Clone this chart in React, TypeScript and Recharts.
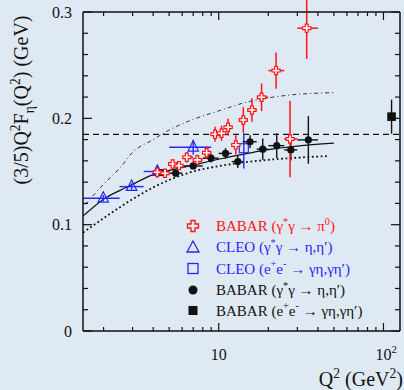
import React from 'react'
import {
  ComposedChart, XAxis, YAxis, Scatter, Line, ErrorBar, ReferenceLine
} from 'recharts'

const BG = '#dfe9f3'
const INK = '#111'
const RED = '#ff1414'
const BLUE = '#2626ff'
const FONT = '"Liberation Serif", "Times New Roman", serif'

// BABAR (γ*γ → π0)
const piQ = [4.24, 4.72, 5.25, 5.74, 6.4, 7.41, 8.45, 9.5, 10.4, 11.4, 12.7, 14.1, 15.9, 18.2, 22.3, 27.1, 34.2]
const piLo = [4, 4.5, 5, 5.5, 6, 7, 8, 9, 10, 11, 12, 13.5, 15, 17, 20, 25, 30]
const piHi = [4.5, 5, 5.5, 6, 7, 8, 9, 10, 11, 12, 13.5, 15, 17, 20, 25, 30, 40]
const piF = [0.1493, 0.1484, 0.1571, 0.1555, 0.1634, 0.1609, 0.1677, 0.185, 0.186, 0.1916, 0.175, 0.1985, 0.2079, 0.2198, 0.2449, 0.1806, 0.2848]
const piErr = [0.004, 0.004, 0.004, 0.004, 0.005, 0.005, 0.006, 0.007, 0.007, 0.008, 0.009, 0.012, 0.011, 0.013, 0.017, 0.036, 0.029]

// CLEO (γ*γ → η,η')
const cleoQ = [1.99, 2.96, 4.24, 7.0]
const cleoLo = [1.5, 2.5, 3.5, 5]
const cleoHi = [2.5, 3.5, 5, 9]
const cleoF = [0.1248, 0.1358, 0.150, 0.1728]
const cleoErr = [0.003, 0.003, 0.006, 0.007]

// CLEO (e+e- → γη,γη')
const cleoEeQ = [14.2]
const cleoEeF = [0.1719]
const cleoEeErr = [[0.019, 0.014]]

// BABAR (γ*γ → η,η')
const etaQ = [4.5, 5.48, 7.0, 8.98, 11.0, 13.05, 15.5, 18.5, 22.5, 27.4, 35.0]
const etaLo = [4, 5, 6, 8, 10, 12, 14, 17, 20, 25, 30]
const etaHi = [5, 6, 8, 10, 12, 14, 17, 20, 25, 30, 40]
const etaF = [0.149, 0.1484, 0.1552, 0.1625, 0.167, 0.1593, 0.178, 0.171, 0.1743, 0.1703, 0.1797]
const etaErr = [0.003, 0.003, 0.003, 0.004, 0.005, 0.006, 0.006, 0.010, 0.0117, 0.010, 0.0224]

// BABAR (e+e- → γη,γη')
const babarEeQ = [112]
const babarEeF = [0.2016]
const babarEeErr = [0.016]

// theory curves
const solidQ = [1.5, 2, 2.5, 3, 4, 5, 7, 10, 15, 20, 30, 50]
const solidF = [0.108, 0.124, 0.132, 0.138, 0.147, 0.151, 0.156, 0.1615, 0.167, 0.1705, 0.1738, 0.1766]
const dotQ = [1.5, 2, 3, 4, 5, 7, 10, 15, 20, 30, 47]
const dotF = [0.0925, 0.106, 0.124, 0.135, 0.142, 0.150, 0.155, 0.159, 0.161, 0.163, 0.1646]
const dashDotQ = [1.55, 2, 2.5, 3, 4, 5, 7, 10, 15, 24, 50]
const dashDotF = [0.119, 0.138, 0.153, 0.168, 0.180, 0.189, 0.199, 0.207, 0.2155, 0.221, 0.2242]

const asymptote = 0.185

const xTicks = [2, 3, 4, 5, 6, 7, 8, 9, 10, 20, 30, 40, 50, 60, 70, 80, 90, 100]
const yTicks = [0, 0.02, 0.04, 0.06, 0.08, 0.1, 0.12, 0.14, 0.16, 0.18, 0.2, 0.22, 0.24, 0.26, 0.28, 0.3]

const piData = piQ.map((q, i) => ({ q, v: piF[i], ex: [q - piLo[i], piHi[i] - q], ey: piErr[i] }))
const cleoData = cleoQ.map((q, i) => ({ q, v: cleoF[i], ex: [q - cleoLo[i], cleoHi[i] - q], ey: cleoErr[i] }))
const cleoEeData = cleoEeQ.map((q, i) => ({ q, v: cleoEeF[i], ey: cleoEeErr[i] }))
const etaData = etaQ.map((q, i) => ({ q, v: etaF[i], ex: [q - etaLo[i], etaHi[i] - q], ey: etaErr[i] }))
const babarEeData = babarEeQ.map((q, i) => ({ q, v: babarEeF[i], ey: babarEeErr[i] }))
const solid = solidQ.map((q, i) => ({ q, v: solidF[i] }))
const dotted = dotQ.map((q, i) => ({ q, v: dotF[i] }))
const dashDot = dashDotQ.map((q, i) => ({ q, v: dashDotF[i] }))

const isMajorX = (v: number) => v === 10 || v === 100
const isMajorY = (v: number) => Math.abs(v * 10 - Math.round(v * 10)) < 1e-6

type Part = [string, 'n' | 'sup' | 'sub']

function Rich({ x, y, parts, size, fill, anchor, transform }: {
  x: number; y: number; parts: Part[]; size: number; fill: string; anchor?: string; transform?: string
}) {
  let shift = 0
  const nodes = parts.map(([t, k], i) => {
    const target = k === 'sup' ? -size * 0.42 : k === 'sub' ? size * 0.28 : 0
    const dy = target - shift
    shift = target
    return <tspan key={i} dy={dy} fontSize={k === 'n' ? size : size * 0.68}>{t}</tspan>
  })
  return (
    <text x={x} y={y} fill={fill} fontSize={size} fontFamily={FONT} textAnchor={anchor} transform={transform}>
      {nodes}
    </text>
  )
}

function crossPoints(cx: number, cy: number, h: number, a: number) {
  const p = [[-a, -h], [a, -h], [a, -a], [h, -a], [h, a], [a, a], [a, h], [-a, h], [-a, a], [-h, a], [-h, -a], [-a, -a]]
  return p.map(([dx, dy]) => `${cx + dx},${cy + dy}`).join(' ')
}

const Cross = (p: any) => (
  <polygon points={crossPoints(p.cx, p.cy, 4.1, 1.4)} fill="#fff" stroke={RED} strokeWidth={1.2} />
)
const Tri = (p: any) => (
  <polygon points={`${p.cx},${p.cy - 6.5} ${p.cx + 5.2},${p.cy + 3.8} ${p.cx - 5.2},${p.cy + 3.8}`} fill="none" stroke={BLUE} strokeWidth={1.2} />
)
const OpenSq = (p: any) => (
  <rect x={p.cx - 4.5} y={p.cy - 4.5} width={9} height={9} fill="none" stroke={BLUE} strokeWidth={1.2} />
)
const Dot = (p: any) => <circle cx={p.cx} cy={p.cy} r={3.6} fill={INK} />
const FillSq = (p: any) => <rect x={p.cx - 4.3} y={p.cy - 4.3} width={8.6} height={8.6} fill={INK} />

function BottomTick({ x, y, payload }: any) {
  const v = payload.value
  return (
    <g>
      <line x1={x} y1={y} x2={x} y2={y - (isMajorX(v) ? 8 : 4)} stroke={INK} strokeWidth={1.2} />
      {v === 10 && <text x={x} y={y + 29} textAnchor="middle" fontSize={16} fontFamily={FONT} fill={INK}>10</text>}
      {v === 100 && <Rich x={x - 8} y={y + 29} size={16} fill={INK} parts={[['10', 'n'], ['2', 'sup']]} />}
    </g>
  )
}

function TopTick({ x, y, payload }: any) {
  const v = payload.value
  return <line x1={x} y1={y} x2={x} y2={y + (isMajorX(v) ? 8 : 4)} stroke={INK} strokeWidth={1.2} />
}

function LeftTick({ x, y, payload }: any) {
  const v = payload.value
  const major = isMajorY(v)
  return (
    <g>
      <line x1={x} y1={y} x2={x + (major ? 9 : 5)} y2={y} stroke={INK} strokeWidth={1.2} />
      {major && (
        <text x={x - 11} y={y + 5.5} textAnchor="end" fontSize={16} fontFamily={FONT} fill={INK}>
          {v === 0 ? '0' : v.toFixed(1)}
        </text>
      )}
    </g>
  )
}

function RightTick({ x, y, payload }: any) {
  const v = payload.value
  return <line x1={x} y1={y} x2={x - (isMajorY(v) ? 9 : 5)} y2={y} stroke={INK} strokeWidth={1.2} />
}

const legendRows: { base: number; color: string; icon: string; parts: Part[] }[] = [
  { base: 231, color: RED, icon: 'cross', parts: [['BABAR (γ', 'n'], ['*', 'sup'], ['γ → π', 'n'], ['0', 'sup'], [')', 'n']] },
  { base: 252, color: BLUE, icon: 'tri', parts: [['CLEO (γ', 'n'], ['*', 'sup'], ['γ → η,η′)', 'n']] },
  { base: 273.5, color: BLUE, icon: 'sq', parts: [['CLEO (e', 'n'], ['+', 'sup'], ['e', 'n'], ['-', 'sup'], [' → γη,γη′)', 'n']] },
  { base: 295, color: INK, icon: 'dot', parts: [['BABAR (γ', 'n'], ['*', 'sup'], ['γ → η,η′)', 'n']] },
  { base: 315.5, color: INK, icon: 'fsq', parts: [['BABAR (e', 'n'], ['+', 'sup'], ['e', 'n'], ['-', 'sup'], [' → γη,γη′)', 'n']] },
]

function LegendIcon({ kind, cx, cy }: { kind: string; cx: number; cy: number }) {
  if (kind === 'cross') return <polygon points={crossPoints(cx, cy, 5.5, 2)} fill="none" stroke={RED} strokeWidth={1.3} />
  if (kind === 'tri') return <polygon points={`${cx},${cy - 6} ${cx + 6},${cy + 5} ${cx - 6},${cy + 5}`} fill="none" stroke={BLUE} strokeWidth={1.3} />
  if (kind === 'sq') return <rect x={cx - 5} y={cy - 5} width={10} height={10} fill="none" stroke={BLUE} strokeWidth={1.3} />
  if (kind === 'dot') return <circle cx={cx} cy={cy} r={4.5} fill={INK} />
  return <rect x={cx - 4.5} y={cy - 4.5} width={9} height={9} fill={INK} />
}

export default function App() {
  return (
    <div style={{ position: 'absolute', left: 0, top: 0, width: 404, height: 390, background: BG }}>
      <ComposedChart width={404} height={390} margin={{ top: 0, right: 0, bottom: 0, left: 0 }}>
        <XAxis
          dataKey="q" type="number" scale="log" domain={[1.5, 126]} allowDataOverflow
          ticks={xTicks} interval={0} height={59} tickSize={0} tickMargin={0} tickLine={false}
          axisLine={{ stroke: INK, strokeWidth: 1.5 }} tick={<BottomTick />}
        />
        <XAxis
          xAxisId="top" orientation="top" dataKey="q" type="number" scale="log" domain={[1.5, 126]} allowDataOverflow
          ticks={xTicks} interval={0} height={12} tickSize={0} tickMargin={0} tickLine={false}
          axisLine={{ stroke: INK, strokeWidth: 1.5 }} tick={<TopTick />}
        />
        <YAxis
          dataKey="v" type="number" domain={[0, 0.3]} allowDataOverflow ticks={yTicks} interval={0}
          width={83} tickSize={0} tickMargin={0} tickLine={false}
          axisLine={{ stroke: INK, strokeWidth: 1.5 }} tick={<LeftTick />}
        />
        <YAxis
          yAxisId="right" orientation="right" dataKey="v" type="number" domain={[0, 0.3]} allowDataOverflow
          ticks={yTicks} interval={0} width={4} tickSize={0} tickMargin={0} tickLine={false}
          axisLine={{ stroke: INK, strokeWidth: 1.5 }} tick={<RightTick />}
        />
        <ReferenceLine y={asymptote} stroke={INK} strokeWidth={1.3} strokeDasharray="6 4" />
        <Line data={dotted} dataKey="v" type="monotone" dot={false} stroke={INK} strokeWidth={1.8}
          strokeDasharray="1.8 2.6" isAnimationActive={false} />
        <Line data={dashDot} dataKey="v" type="monotone" dot={false} stroke="#333" strokeWidth={1}
          strokeDasharray="4 3 1 3" xAxisId="top" yAxisId="right" isAnimationActive={false} />
        <Line data={solid} dataKey="v" type="monotone" dot={false} stroke={INK} strokeWidth={1.2}
          isAnimationActive={false} />
        <Scatter data={cleoData} dataKey="v" shape={Tri} isAnimationActive={false}>
          <ErrorBar dataKey="ex" direction="x" width={0} stroke={BLUE} strokeWidth={1.4} />
          <ErrorBar dataKey="ey" direction="y" width={0} stroke={BLUE} strokeWidth={1.4} />
        </Scatter>
        <Scatter data={cleoEeData} dataKey="v" shape={OpenSq} isAnimationActive={false}>
          <ErrorBar dataKey="ey" direction="y" width={0} stroke={BLUE} strokeWidth={1.4} />
        </Scatter>
        <Scatter data={etaData} dataKey="v" shape={Dot} isAnimationActive={false}>
          <ErrorBar dataKey="ex" direction="x" width={0} stroke={INK} strokeWidth={1.4} />
          <ErrorBar dataKey="ey" direction="y" width={0} stroke={INK} strokeWidth={1.4} />
        </Scatter>
        <Scatter data={babarEeData} dataKey="v" shape={FillSq} isAnimationActive={false}>
          <ErrorBar dataKey="ey" direction="y" width={0} stroke={INK} strokeWidth={1.4} />
        </Scatter>
        <Scatter data={piData} dataKey="v" shape={Cross} isAnimationActive={false}>
          <ErrorBar dataKey="ex" direction="x" width={0} stroke={RED} strokeWidth={1.5} />
          <ErrorBar dataKey="ey" direction="y" width={0} stroke={RED} strokeWidth={1.5} />
        </Scatter>
      </ComposedChart>
      <svg width={404} height={390} style={{ position: 'absolute', left: 0, top: 0, pointerEvents: 'none' }}>
        <Rich
          x={-100} y={28} size={20} fill={INK} anchor="middle" transform="rotate(-90)"
          parts={[['(3/5)Q', 'n'], ['2', 'sup'], ['F', 'n'], ['η', 'sub'], ['(Q', 'n'], ['2', 'sup'], [') (GeV)', 'n']]}
        />
        <Rich
          x={403} y={386} size={20} fill={INK} anchor="end"
          parts={[['Q', 'n'], ['2', 'sup'], [' (GeV', 'n'], ['2', 'sup'], [')', 'n']]}
        />
        {legendRows.map((r) => (
          <g key={r.base}>
            <LegendIcon kind={r.icon} cx={193} cy={r.base - 5} />
            <Rich x={216} y={r.base} size={15} fill={r.color} parts={r.parts} />
          </g>
        ))}
      </svg>
    </div>
  )
}
